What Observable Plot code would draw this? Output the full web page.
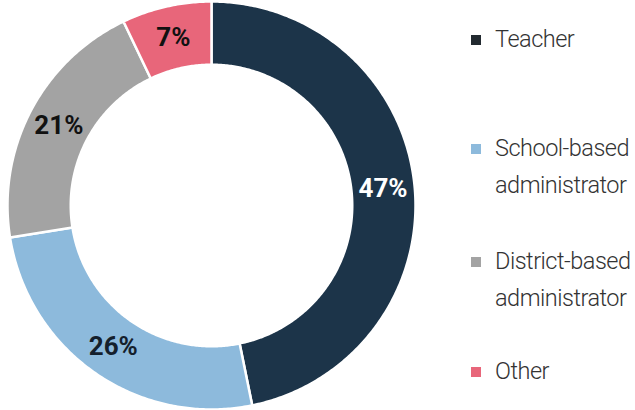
<!DOCTYPE html>
<html><head><meta charset="utf-8">
<script src="https://cdn.jsdelivr.net/npm/d3@7"></script>
<script src="https://cdn.jsdelivr.net/npm/@observablehq/plot@0.6"></script>
<style>
body{margin:0;background:#fff;font-family:Roboto,"Open Sans",sans-serif;}
#wrap{position:relative;width:635px;height:410px;overflow:hidden;}
#chart{position:absolute;left:0;top:0;}
#legend{position:absolute;left:471px;top:0;width:164px;height:410px;}
.item{position:absolute;left:0;display:flex;align-items:flex-start;font-size:23.5px;font-weight:300;color:#333;line-height:37px;letter-spacing:-0.5px;white-space:nowrap;}
.sw{width:10px;height:10px;margin-top:14px;margin-right:14px;flex:none;}
</style></head>
<body>
<div id="wrap"><div id="chart"></div><div id="legend"></div></div>
<script>
const categories = ["Teacher", "School-based administrator", "District-based administrator", "Other"];
const legendLines = [["Teacher"], ["School-based", "administrator"], ["District-based", "administrator"], ["Other"]];
const values = [46.8, 25.7, 20.4, 7.1];
const labels = ["47%", "26%", "21%", "7%"];
const colors = ["#1c3449", "#8dbadc", "#a3a3a3", "#e8667a"];
const labelColors = ["#ffffff", "#14202c", "#111111", "#111111"];
const legendTops = [21, 130, 243, 353];

const innerR = 0.69, outerR = 1;
const pie = d3.pie().sort(null).startAngle(0).endAngle(2 * Math.PI);
const arcs = pie(values);

// ring polygons (outer arc forward, inner arc back)
const ring = [];
arcs.forEach((a, i) => {
  const n = Math.max(4, Math.ceil((a.endAngle - a.startAngle) / 0.01));
  for (let k = 0; k <= n; k++) {
    const t = a.startAngle + (a.endAngle - a.startAngle) * k / n;
    ring.push({cat: categories[i], x: outerR * Math.sin(t), y: outerR * Math.cos(t)});
  }
  for (let k = n; k >= 0; k--) {
    const t = a.startAngle + (a.endAngle - a.startAngle) * k / n;
    ring.push({cat: categories[i], x: innerR * Math.sin(t), y: innerR * Math.cos(t)});
  }
});

const rMid = (innerR + outerR) / 2;
const labelData = arcs.map((a, i) => {
  const t = (a.startAngle + a.endAngle) / 2;
  return {cat: categories[i], label: labels[i], color: labelColors[i], x: rMid * Math.sin(t), y: rMid * Math.cos(t)};
});

const plot = Plot.plot({
  width: 430,
  height: 410,
  margin: 0,
  x: {domain: [-1, 1], range: [7, 415], axis: null},
  y: {domain: [-1, 1], range: [409, 1], axis: null},
  color: {domain: categories, range: colors},
  style: {background: "#fff"},
  marks: [
    Plot.line(ring, {x: "x", y: "y", z: "cat", fill: "cat", stroke: "#fff", strokeWidth: 2.5, curve: "linear-closed"}),
    Plot.text(labelData.filter(d => d.color === "#ffffff"), {x: "x", y: "y", text: "label", fill: "#ffffff", fontSize: 26, fontWeight: "bold", fontFamily: "Roboto"}),
    Plot.text(labelData.filter(d => d.color !== "#ffffff"), {x: "x", y: "y", text: "label", fill: d => d.color, fontSize: 26, fontWeight: "bold", fontFamily: "Roboto"})
  ]
});
document.getElementById("chart").appendChild(plot);

const legend = document.getElementById("legend");
categories.forEach((c, i) => {
  const item = document.createElement("div");
  item.className = "item";
  item.style.top = legendTops[i] + "px";
  const sw = document.createElement("div");
  sw.className = "sw";
  sw.style.background = i === 0 ? "#222a30" : colors[i];
  const txt = document.createElement("div");
  txt.innerHTML = legendLines[i].join("<br>");
  item.appendChild(sw); item.appendChild(txt);
  legend.appendChild(item);
});
</script>
</body></html>
